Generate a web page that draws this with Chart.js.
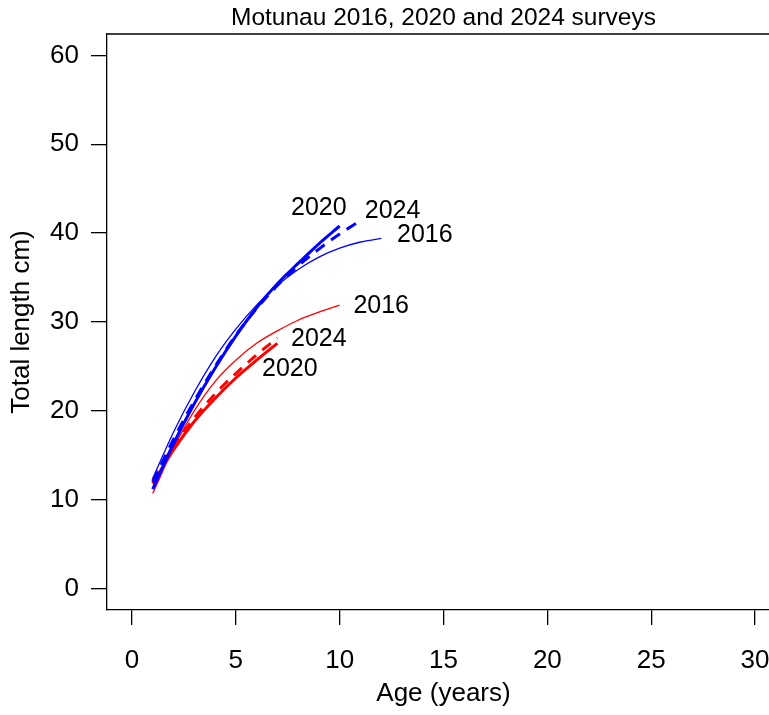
<!DOCTYPE html>
<html>
<head>
<meta charset="utf-8">
<title>Motunau growth curves</title>
<script src="https://cdn.jsdelivr.net/npm/chart.js@4/dist/chart.umd.min.js"></script>
<style>
  html, body { margin: 0; padding: 0; background: #ffffff; overflow: hidden; }
  #wrap { width: 769px; height: 715px; overflow: hidden; }
  canvas { display: block; }
</style>
</head>
<body>
<div id="wrap"><canvas id="chart" width="780" height="715"></canvas></div>
<script>
// Mean length-at-age (cm) from fitted growth curves, by survey
const blueAges2016 = [1, 2, 3, 4, 5, 6, 7, 8, 9, 10, 11, 12];
const blue2016 = [12.4, 17.6, 22.1, 26.0, 29.2, 31.9, 34.1, 35.9, 37.3, 38.3, 39.0, 39.4];

const blueAges2020 = [1, 2, 3, 4, 5, 6, 7, 8, 9, 10];
const blue2020 = [11.2, 16.3, 20.8, 24.8, 28.4, 31.6, 34.3, 36.6, 38.8, 40.8];

const blueAges2024 = [1, 2, 3, 4, 5, 6, 7, 8, 9, 10, 11];
const blue2024 = [12.0, 16.8, 21.1, 25.0, 28.5, 31.5, 34.1, 36.3, 38.2, 39.9, 41.4];

const redAges2016 = [1, 2, 3, 4, 5, 6, 7, 8, 9, 10];
const red2016 = [10.7, 15.8, 20.0, 23.3, 25.7, 27.6, 29.0, 30.2, 31.1, 31.9];

const redAges2020 = [1, 2, 3, 4, 5, 6, 7];
const red2020 = [11.8, 15.6, 18.8, 21.4, 23.7, 25.7, 27.6];

const redAges2024 = [1, 2, 3, 4, 5, 6, 7];
const red2024 = [12.2, 16.0, 19.2, 21.9, 24.2, 26.3, 28.2];

const xTickValues = [0, 5, 10, 15, 20, 25, 30];
const yTickValues = [0, 10, 20, 30, 40, 50, 60];

const chartTitle = 'Motunau 2016, 2020 and 2024 surveys';

const FONT = "'Liberation Sans', Arial, Helvetica, sans-serif";
const BLUE = '#0000ff';
const RED = '#ff0000';

function pts(ages, vals) {
  return ages.map((a, i) => ({ x: a, y: vals[i] }));
}

// style per survey: thin solid, thick solid, thick dashed
function series(label, ages, vals, color, kind, labelDx, labelDy) {
  return {
    label: label,
    data: pts(ages, vals),
    borderColor: color,
    backgroundColor: color,
    borderWidth: kind === 'thin' ? 1.3 : 3,
    borderDash: kind === 'dashed' ? [11, 8] : [],
    borderCapStyle: 'butt',
    pointRadius: 0,
    pointHoverRadius: 0,
    fill: false,
    cubicInterpolationMode: 'monotone',
    endLabel: { dx: labelDx, dy: labelDy }
  };
}

const datasets = [
  series('2016', blueAges2016, blue2016, BLUE, 'thin', 2.1, 0.4),
  series('2020', blueAges2020, blue2020, BLUE, 'thick', -1.0, 2.0),
  series('2024', blueAges2024, blue2024, BLUE, 'dashed', 1.55, 1.1),
  series('2016', redAges2016, red2016, RED, 'thin', 2.0, -0.1),
  series('2020', redAges2020, red2020, RED, 'thick', 0.6, -2.9),
  series('2024', redAges2024, red2024, RED, 'dashed', 2.0, -0.1)
];

// Survey year written beside the end of each curve
const endLabels = {
  id: 'endLabels',
  afterDatasetsDraw(chart) {
    const ctx = chart.ctx;
    const xs = chart.scales.x, ys = chart.scales.y;
    ctx.save();
    ctx.font = '25px ' + FONT;
    ctx.fillStyle = '#000000';
    ctx.textAlign = 'center';
    ctx.textBaseline = 'middle';
    chart.data.datasets.forEach(ds => {
      const last = ds.data[ds.data.length - 1];
      const px = xs.getPixelForValue(last.x + ds.endLabel.dx);
      const py = ys.getPixelForValue(last.y + ds.endLabel.dy);
      ctx.fillText(ds.label, px, py);
    });
    ctx.restore();
  }
};

// Top and right sides of the plot frame, plus the title centred over the plot
const frame = {
  id: 'frame',
  afterDraw(chart) {
    const a = chart.chartArea;
    const ctx = chart.ctx;
    ctx.save();
    ctx.strokeStyle = '#000000';
    ctx.lineWidth = 1.3;
    ctx.beginPath();
    ctx.moveTo(a.left, a.top);
    ctx.lineTo(a.right, a.top);
    ctx.lineTo(a.right, a.bottom);
    ctx.stroke();
    ctx.font = '24.5px ' + FONT;
    ctx.fillStyle = '#000000';
    ctx.textAlign = 'center';
    ctx.textBaseline = 'middle';
    ctx.fillText(chartTitle, (a.left + a.right) / 2, 18);
    ctx.restore();
  }
};

new Chart(document.getElementById('chart'), {
  type: 'line',
  data: { datasets: datasets },
  options: {
    responsive: false,
    animation: false,
    devicePixelRatio: 1,
    layout: { padding: { top: 34, left: 0, right: 0, bottom: 0 } },
    plugins: {
      legend: { display: false },
      tooltip: { enabled: false },
      title: { display: false }
    },
    scales: {
      x: {
        type: 'linear',
        min: -1.2,
        max: 31.2,
        afterBuildTicks(scale) { scale.ticks = xTickValues.map(v => ({ value: v })); },
        afterFit(scale) {
          scale.height = 105;
          scale.paddingLeft = 0;
          scale.paddingRight = 0;
        },
        ticks: {
          color: '#000000',
          font: { family: FONT, size: 26 },
          padding: 20,
          maxRotation: 0,
          autoSkip: false
        },
        grid: {
          drawOnChartArea: false,
          drawTicks: true,
          tickLength: 15,
          color: '#000000',
          lineWidth: 1.3
        },
        border: { display: true, color: '#000000', width: 1.3 },
        title: {
          display: true,
          text: 'Age (years)',
          color: '#000000',
          font: { family: FONT, size: 26 },
          padding: { top: 0, bottom: 6 }
        }
      },
      y: {
        type: 'linear',
        min: -2.4,
        max: 62.4,
        afterBuildTicks(scale) { scale.ticks = yTickValues.map(v => ({ value: v })); },
        afterFit(scale) {
          scale.width = 107;
          scale.paddingTop = 0;
          scale.paddingBottom = 0;
        },
        ticks: {
          color: '#000000',
          font: { family: FONT, size: 26 },
          padding: 12,
          autoSkip: false
        },
        grid: {
          drawOnChartArea: false,
          drawTicks: true,
          tickLength: 16,
          color: '#000000',
          lineWidth: 1.3
        },
        border: { display: true, color: '#000000', width: 1.3 },
        title: {
          display: true,
          text: 'Total length cm)',
          color: '#000000',
          font: { family: FONT, size: 26 },
          padding: { top: 6, bottom: 0 }
        }
      }
    }
  },
  plugins: [endLabels, frame]
});
</script>
</body>
</html>
